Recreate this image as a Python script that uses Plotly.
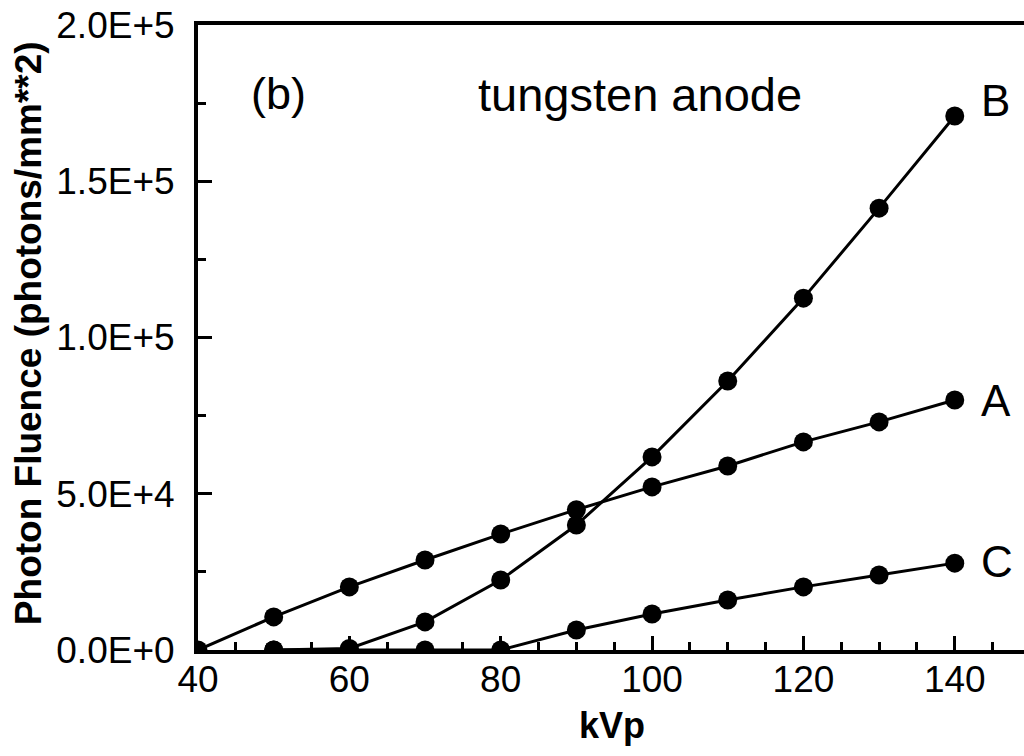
import plotly.graph_objects as go

# Tube potential (kVp) for each measurement
kvp_a = [40, 50, 60, 70, 80, 90, 100, 110, 120, 130, 140]
kvp_bc = [50, 60, 70, 80, 90, 100, 110, 120, 130, 140]

# Photon fluence (photons/mm**2) per curve
fluence_a = [0, 10600, 20200, 28800, 37100, 44900, 52200, 58900, 66600, 73000, 80000]
fluence_b = [0, 500, 9000, 22400, 40000, 61800, 86100, 112600, 141400, 170900]
fluence_c = [0, 0, 0, 0, 6400, 11500, 16000, 20200, 24000, 27800]

series = [("A", kvp_a, fluence_a, 0), ("B", kvp_bc, fluence_b, 15), ("C", kvp_bc, fluence_c, 2)]

x_ticks = [40, 60, 80, 100, 120, 140]
y_ticks = [0, 50000, 100000, 150000, 200000]
y_tick_text = ["0.0E+0", "5.0E+4", "1.0E+5", "1.5E+5", "2.0E+5"]

FONT = "Liberation Sans, Arial, sans-serif"

fig = go.Figure()
for name, xs, ys, _ in series:
    fig.add_trace(go.Scatter(
        x=xs, y=ys, mode="lines+markers", name=name,
        line=dict(color="black", width=3),
        marker=dict(color="black", size=19, symbol="circle"),
        cliponaxis=True, showlegend=False,
    ))

# Curve labels to the right of the last point
for name, xs, ys, dy in series:
    fig.add_annotation(x=xs[-1], y=ys[-1], text=name, showarrow=False,
                       xanchor="left", yanchor="middle", xshift=24, yshift=dy,
                       font=dict(family=FONT, size=44, color="black"))

fig.add_annotation(x=0.0969, y=0.891, xref="paper", yref="paper", text="(b)",
                   showarrow=False, xanchor="center", yanchor="middle",
                   font=dict(family=FONT, size=45, color="black"))
fig.add_annotation(x=0.535, y=0.8896, xref="paper", yref="paper", text="tungsten anode",
                   showarrow=False, xanchor="center", yanchor="middle",
                   font=dict(family=FONT, size=47, color="black"))

# Axis titles
fig.add_annotation(x=-0.2058, y=0.507, xref="paper", yref="paper",
                   text="<b>Photon Fluence (photons/mm**2)</b>", textangle=-90,
                   showarrow=False, xanchor="center", yanchor="middle",
                   font=dict(family=FONT, size=37, color="black"))
fig.add_annotation(x=0.501, y=-0.12, xref="paper", yref="paper",
                   text="<b>kVp</b>", showarrow=False, xanchor="center", yanchor="middle",
                   font=dict(family=FONT, size=36, color="black"))

fig.update_xaxes(
    range=[40, 149.15], tickvals=x_ticks, ticktext=[str(v) for v in x_ticks],
    ticks="inside", ticklen=14, tickwidth=2.5, tickcolor="black",
    minor=dict(dtick=5, tick0=40, ticks="inside", ticklen=8, tickwidth=2.5, tickcolor="black"),
    showline=True, linewidth=4, linecolor="black", mirror=True,
    showgrid=False, zeroline=False, ticklabelstandoff=-6,
    tickfont=dict(family=FONT, size=37, color="black"),
)
fig.update_yaxes(
    range=[0, 200000], tickvals=y_ticks, ticktext=y_tick_text,
    ticks="inside", ticklen=14, tickwidth=2.5, tickcolor="black",
    minor=dict(dtick=25000, tick0=0, ticks="inside", ticklen=8, tickwidth=2.5, tickcolor="black"),
    showline=True, linewidth=4, linecolor="black", mirror=False,
    showgrid=False, zeroline=False, ticklabelstandoff=12,
    tickfont=dict(family=FONT, size=37, color="black"),
)

fig.update_layout(
    width=1024, height=756,
    margin=dict(l=198, r=0, t=25, b=106),
    paper_bgcolor="white", plot_bgcolor="white",
)

fig.write_html("out.html")
